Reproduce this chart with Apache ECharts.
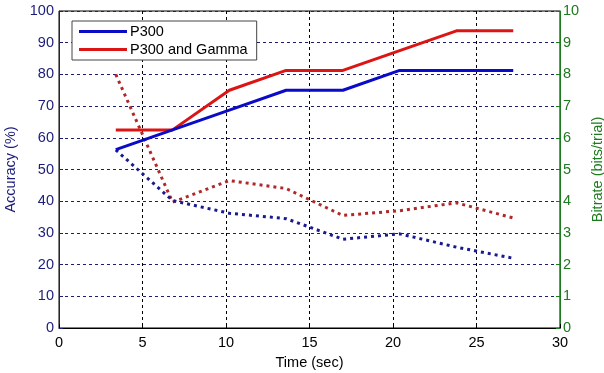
<!DOCTYPE html>
<html><head><meta charset="utf-8">
<script src="https://cdn.jsdelivr.net/npm/echarts@6/dist/echarts.min.js"></script>
<style>html,body{margin:0;padding:0;background:#fff}#c{width:604px;height:373px}</style>
</head><body><div id="c"></div>
<script>
const times = [3.4, 6.8, 10.2, 13.6, 17.0, 20.4, 23.8, 27.2];
const accP300 = [56.25, 62.5, 68.75, 75, 75, 81.25, 81.25, 81.25];
const accGamma = [62.5, 62.5, 75, 81.25, 81.25, 87.5, 93.75, 93.75];
const bitP300 = [5.62, 4.02, 3.62, 3.45, 2.8, 2.97, 2.55, 2.2];
const bitGamma = [8.0, 3.97, 4.65, 4.4, 3.55, 3.7, 3.95, 3.47];
const xTicks = [0, 5, 10, 15, 20, 25, 30];
const legendNames = ['P300', 'P300 and Gamma'];

const pair = (ys) => times.map((t, i) => [t, ys[i]]);
const font = 'Liberation Sans, Arial, sans-serif';
const navy = '#1c1c7a';
const green = '#1e7a1e';

const chart = echarts.init(document.getElementById('c'));
chart.setOption({
  animation: false,
  backgroundColor: '#fff',
  grid: { left: 59, right: 44, top: 11, bottom: 45, outerBoundsMode: 'none', containLabel: false,
    show: true, borderColor: '#000', borderWidth: 1, backgroundColor: 'transparent' },
  legend: {
    data: legendNames, orient: 'vertical', left: 72, top: 21,
    borderColor: '#444', borderWidth: 1, backgroundColor: '#fff',
    padding: [3, 9, 3, 7], itemGap: 3, itemWidth: 48, itemHeight: 3, icon: 'rect',
    textStyle: { fontFamily: font, fontSize: 14.5, color: '#000', padding: [0, 0, 0, -2] }
  },
  xAxis: {
    type: 'value', min: 0, max: 30, interval: 5,
    name: 'Time (sec)', nameLocation: 'middle', nameGap: 27,
    nameTextStyle: { fontFamily: font, fontSize: 14.5, color: '#000' },
    axisLine: { lineStyle: { color: '#000', width: 1 } },
    axisTick: { inside: true, length: 4, lineStyle: { color: '#000' } },
    axisLabel: { fontFamily: font, fontSize: 14.5, color: '#000', margin: 7,
      formatter: v => xTicks.includes(v) ? String(v) : '' },
    splitLine: { show: true, lineStyle: { color: '#000', type: [3, 3], width: 1 } }
  },
  yAxis: [{
    type: 'value', min: 0, max: 100, interval: 10, position: 'left',
    name: 'Accuracy (%)', nameLocation: 'middle', nameGap: 41, nameRotate: 90,
    nameTextStyle: { fontFamily: font, fontSize: 14.5, color: navy },
    axisLine: { show: true, lineStyle: { color: navy, width: 1 } },
    axisTick: { show: true, inside: true, length: 4, lineStyle: { color: navy } },
    axisLabel: { fontFamily: font, fontSize: 14.5, color: navy, margin: 5 },
    splitLine: { show: true, lineStyle: { color: navy, type: [3, 3], width: 1 } }
  }, {
    type: 'value', min: 0, max: 10, interval: 1, position: 'right',
    name: 'Bitrate (bits/trial)', nameLocation: 'middle', nameGap: 30, nameRotate: 90,
    nameTextStyle: { fontFamily: font, fontSize: 14.5, color: green },
    axisLine: { show: true, lineStyle: { color: green, width: 1 } },
    axisTick: { show: true, inside: true, length: 4, lineStyle: { color: green } },
    axisLabel: { fontFamily: font, fontSize: 14.5, color: green, margin: 3 },
    splitLine: { show: false }
  }],
  series: [
    { name: 'P300', type: 'line', yAxisIndex: 0, data: pair(accP300), showSymbol: false,
      lineStyle: { color: '#0a0ac8', width: 3 }, itemStyle: { color: '#0a0ac8' }, z: 5 },
    { name: 'P300 and Gamma', type: 'line', yAxisIndex: 0, data: pair(accGamma), showSymbol: false,
      lineStyle: { color: '#dc1414', width: 3 }, itemStyle: { color: '#dc1414' }, z: 4 },
    { name: 'P300 bitrate', type: 'line', yAxisIndex: 1, data: pair(bitP300), showSymbol: false,
      lineStyle: { color: '#1a1a90', width: 3, type: [3, 4], cap: 'butt' }, z: 3 },
    { name: 'Gamma bitrate', type: 'line', yAxisIndex: 1, data: pair(bitGamma), showSymbol: false,
      lineStyle: { color: '#b02828', width: 3, type: [3, 4], cap: 'butt' }, z: 2 }
  ]
});
</script></body></html>
